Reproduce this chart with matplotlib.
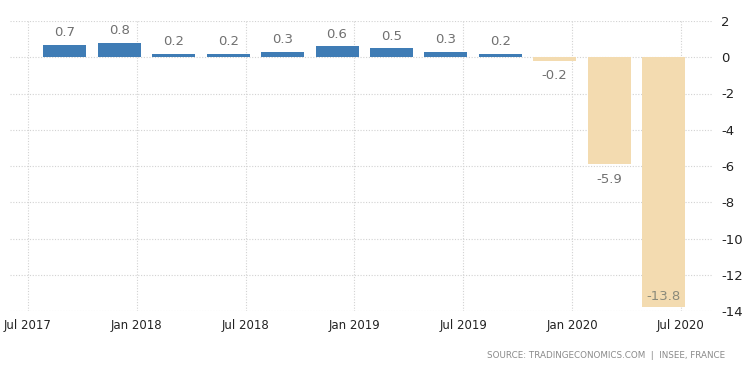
import matplotlib
matplotlib.use("Agg")
from matplotlib import pyplot as plt

# quarterly GDP growth, France (QoQ %)
quarters = ["Q3 2017", "Q4 2017", "Q1 2018", "Q2 2018", "Q3 2018", "Q4 2018",
            "Q1 2019", "Q2 2019", "Q3 2019", "Q4 2019", "Q1 2020", "Q2 2020"]
growth = [0.7, 0.8, 0.2, 0.2, 0.3, 0.6, 0.5, 0.3, 0.2, -0.2, -5.9, -13.8]
tick_labels = ["Jul 2017", "Jan 2018", "Jul 2018", "Jan 2019", "Jul 2019", "Jan 2020", "Jul 2020"]
y_ticks = [2, 0, -2, -4, -6, -8, -10, -12, -14]

blue = "#3f7cb5"
beige = "#f3dbb0"

fig = plt.figure(figsize=(7.5, 3.73), dpi=100)
ax = fig.add_axes([10 / 750, 1 - 311 / 373, 703 / 750, 290 / 373])

x = list(range(len(growth)))
colors = [blue if v >= 0 else beige for v in growth]
ax.bar(x, growth, width=0.79, color=colors, zorder=2)

# value labels
for xi, v in zip(x, growth):
    if v >= 0:
        ax.annotate(f"{v:.1f}", (xi, v), xytext=(0, 4), textcoords="offset points",
                    ha="center", va="bottom", fontsize=9.5, color="#707070")
    elif v > -12:
        ax.annotate(f"{v:.1f}", (xi, v), xytext=(0, -6), textcoords="offset points",
                    ha="center", va="top", fontsize=9.5, color="#707070")
    else:
        ax.annotate(f"{v:.1f}", (xi, v), xytext=(0, 3), textcoords="offset points",
                    ha="center", va="bottom", fontsize=9.5, color="#8a8a7a")

ax.set_xlim(-1.01, 11.91)
ax.set_ylim(-14, 2)

# half-year ticks, Jul 2017 sits ~2/3 quarter before the first bar
tick_pos = [-0.68 + 2 * i for i in range(len(tick_labels))]
ax.set_xticks(tick_pos)
ax.set_xticklabels(tick_labels, fontsize=8.5, color="#222222")
ax.set_yticks(y_ticks)
ax.set_yticklabels([str(t) for t in y_ticks], fontsize=9.5, color="#222222")
ax.yaxis.tick_right()
ax.tick_params(axis="both", length=0)
ax.tick_params(axis="y", pad=6)
ax.tick_params(axis="x", pad=6)

ax.grid(True, color="#d2d2d2", linestyle=(0, (1, 1.5)), linewidth=0.8, zorder=0)
ax.set_axisbelow(True)
for s in ax.spines.values():
    s.set_visible(False)

fig.text(725 / 750, 1 - 356 / 373, "SOURCE: TRADINGECONOMICS.COM  |  INSEE, FRANCE",
         ha="right", va="center", fontsize=6.3, color="#8a8a8a")

fig.savefig("out.png", dpi=100)
